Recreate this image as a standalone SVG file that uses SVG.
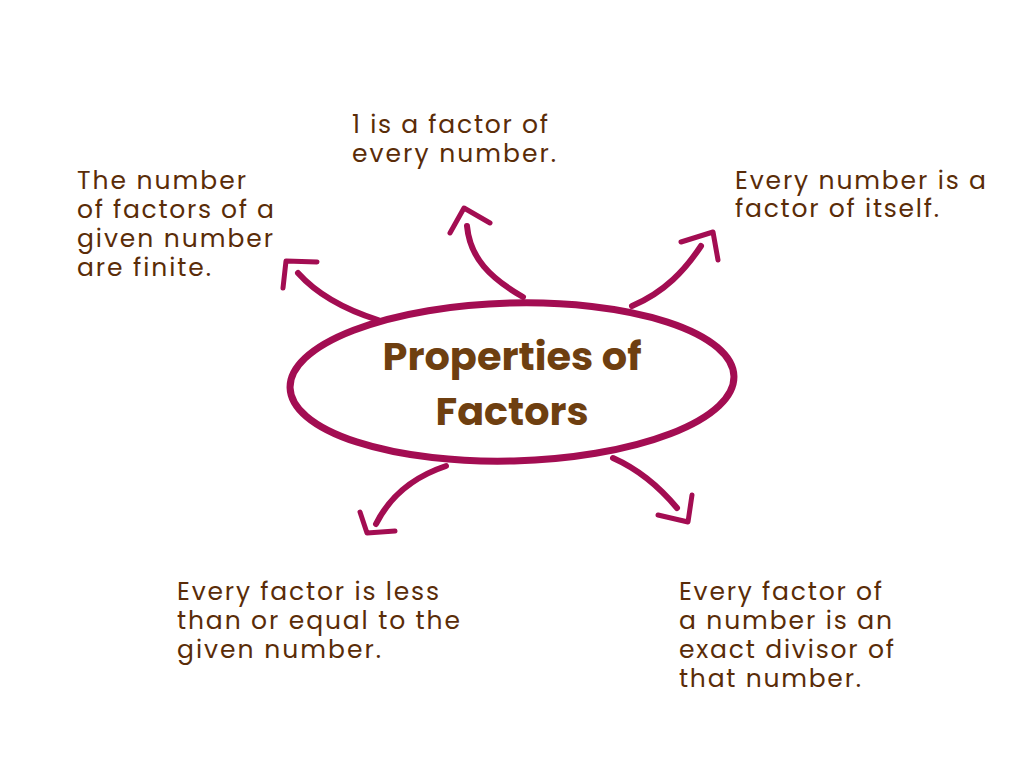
<svg xmlns="http://www.w3.org/2000/svg" width="1024" height="768" viewBox="0 0 1024 768">
<defs>
<style>
.lbl{font-family:"Poppins","Open Sans","Liberation Sans",sans-serif;font-size:25px;fill:#5a2c08;letter-spacing:1px}
.ttl{font-family:"Poppins","Open Sans","Liberation Sans",sans-serif;font-size:38px;font-weight:bold;fill:#6e3f10;text-anchor:middle}
.ln{fill:none;stroke:#a30d52;stroke-width:6;stroke-linecap:round;stroke-linejoin:round}
.hd{fill:none;stroke:#a30d52;stroke-width:5;stroke-linecap:round;stroke-linejoin:round}
</style>
</defs>
<rect width="1024" height="768" fill="#ffffff"/>
<g id="connectors">
<path class="ln" d="M378,320 C340,308 315,292 298,273"/>
<path class="hd" d="M317,262 L286,261 L283,288"/>
<path class="ln" d="M523,297 C490,278 470,258 467,226"/>
<path class="hd" d="M450,233 L464,208 L490,223"/>
<path class="ln" d="M632,306 C665,292 685,270 701,246"/>
<path class="hd" d="M681,242 L713,232 L718,260"/>
<path class="ln" d="M446,466 C410,478 388,500 376,524"/>
<path class="hd" d="M360,512 L367,533 L395,531"/>
<path class="ln" d="M613,458 C640,470 662,490 677,508"/>
<path class="hd" d="M692,495 L688,522 L658,515"/>
</g>
<g id="center">
<ellipse cx="512" cy="382" rx="222" ry="79" transform="rotate(-1.5 512 382)" fill="none" stroke="#a30d52" stroke-width="7"/>
<text class="ttl" x="512" y="370" textLength="259" lengthAdjust="spacingAndGlyphs">Properties of</text>
<text class="ttl" x="512" y="425" textLength="153" lengthAdjust="spacingAndGlyphs">Factors</text>
</g>
<g id="n1">
<text class="lbl" x="352" y="133" textLength="197">1 is a factor of</text>
<text class="lbl" x="352" y="162" textLength="205">every number.</text>
</g>
<g id="n2">
<text class="lbl" x="77" y="189" textLength="170">The number</text>
<text class="lbl" x="77" y="218" textLength="198">of factors of a</text>
<text class="lbl" x="77" y="247" textLength="197">given number</text>
<text class="lbl" x="77" y="276" textLength="135">are finite.</text>
</g>
<g id="n3">
<text class="lbl" x="735" y="189" textLength="252">Every number is a</text>
<text class="lbl" x="735" y="217" textLength="205">factor of itself.</text>
</g>
<g id="n4">
<text class="lbl" x="177" y="600" textLength="263">Every factor is less</text>
<text class="lbl" x="177" y="629" textLength="284">than or equal to the</text>
<text class="lbl" x="177" y="658" textLength="205">given number.</text>
</g>
<g id="n5">
<text class="lbl" x="679" y="600" textLength="204">Every factor of</text>
<text class="lbl" x="679" y="629" textLength="214">a number is an</text>
<text class="lbl" x="679" y="658" textLength="216">exact divisor of</text>
<text class="lbl" x="679" y="687" textLength="183">that number.</text>
</g>
</svg>
